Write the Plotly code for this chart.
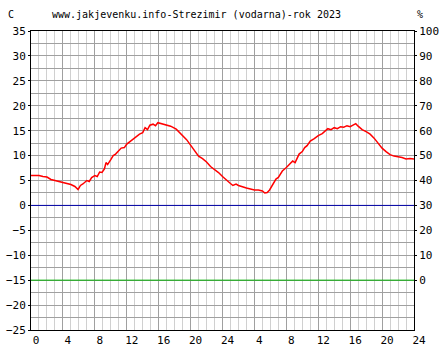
import plotly.graph_objects as go

# hours since start of the 2-day window and temperature in C
hours = [0, 1.0, 1.5, 2.0, 2.5, 3.0, 3.5, 4.0, 4.5, 5.0, 5.5, 5.9, 6.2, 6.5, 7.0, 7.3, 7.6, 8.0,
         8.3, 8.6, 8.9, 9.2, 9.4, 9.6, 10.0, 10.3, 10.6, 11.0, 11.3, 11.7, 12.0, 12.4, 12.8,
         13.2, 13.6, 14.0, 14.3, 14.6, 14.9, 15.3, 15.6, 15.9, 16.3, 16.7, 17.0, 17.5, 18.2,
         18.6, 19.0, 19.5, 20.0, 20.5, 21.0, 21.5, 22.0, 22.5, 23.0, 23.5, 24.0, 24.5, 25.0,
         25.3, 25.7, 26.0, 26.5, 27.0, 27.5, 28.0, 28.5, 29.0, 29.3, 29.6, 29.9, 30.3, 30.7,
         31.0, 31.5, 32.0, 32.4, 32.8, 33.1, 33.3, 33.6, 34.0, 34.3, 34.6, 35.0, 35.5, 36.0,
         36.5, 37.0, 37.2, 37.6, 38.0, 38.4, 38.8, 39.2, 39.6, 40.0, 40.4, 40.7, 41.0, 41.5,
         42.0, 42.5, 43.0, 43.6, 44.0, 44.5, 45.0, 45.5, 46.0, 46.5, 47.0, 47.5, 48.0]
temps = [6.0, 6.0, 5.8, 5.7, 5.2, 5.0, 4.9, 4.6, 4.4, 4.2, 3.8, 3.2, 4.0, 4.3, 5.0, 4.8, 5.6, 6.0,
         5.8, 6.7, 6.6, 7.3, 8.6, 8.2, 9.2, 10.0, 10.3, 11.0, 11.5, 11.6, 12.3, 12.8, 13.3,
         13.8, 14.3, 14.6, 15.6, 15.2, 16.1, 16.3, 16.0, 16.6, 16.4, 16.3, 16.2, 15.9, 15.3,
         14.7, 14.0, 13.2, 12.1, 11.0, 9.9, 9.4, 8.7, 7.8, 7.2, 6.6, 5.8, 5.0, 4.4,
         4.0, 4.3, 4.0, 3.7, 3.5, 3.3, 3.1, 3.1, 2.9, 2.5, 2.6, 3.1, 4.2, 5.3,
         5.6, 6.9, 7.6, 8.2, 8.9, 8.6, 9.3, 10.3, 10.8, 11.6, 12.0, 12.9, 13.4, 14.0,
         14.4, 15.0, 15.4, 15.2, 15.6, 15.4, 15.8, 15.7, 16.0, 15.8, 16.1, 16.4, 15.9, 15.2,
         14.8, 14.3, 13.5, 12.3, 11.5, 10.8, 10.2, 9.9, 9.8, 9.6, 9.3, 9.4, 9.3]

x_tick_vals = [0, 4, 8, 12, 16, 20, 24, 28, 32, 36, 40, 44, 48]
x_tick_text = ["0", "4", "8", "12", "16", "20", "24", "4", "8", "12", "16", "20", "24"]
y_tick_vals = [-25, -20, -15, -10, -5, 0, 5, 10, 15, 20, 25, 30, 35]
y2_tick_vals = [0, 10, 20, 30, 40, 50, 60, 70, 80, 90, 100]
ref_zero = 0
ref_low = -15

title_text = "www.jakjevenku.info-Strezimir (vodarna)-rok 2023"
FONT = "DejaVu Sans Mono"

fig = go.Figure()
fig.add_trace(go.Scatter(x=[0, 48], y=[ref_low, ref_low], mode="lines",
                         line=dict(color="#00b000", width=1), hoverinfo="skip", showlegend=False))
fig.add_trace(go.Scatter(x=[0, 48], y=[ref_zero, ref_zero], mode="lines",
                         line=dict(color="#0000a8", width=1), hoverinfo="skip", showlegend=False))
fig.add_trace(go.Scatter(x=hours, y=temps, mode="lines",
                         line=dict(color="#ff0000", width=1.5), showlegend=False))
# invisible trace for right axis
fig.add_trace(go.Scatter(x=[0], y=[50], yaxis="y2", mode="markers",
                         marker=dict(opacity=0), hoverinfo="skip", showlegend=False))

fig.update_layout(
    width=444, height=360,
    margin=dict(l=31, r=30, t=31, b=30),
    paper_bgcolor="white", plot_bgcolor="white",
    font=dict(family=FONT, size=10, color="black"),
    xaxis=dict(range=[0, 48], tickvals=x_tick_vals, ticktext=x_tick_text,
               showgrid=True, gridcolor="#a0a0a0", gridwidth=1,
               minor=dict(dtick=1, showgrid=True, gridcolor="#d0d0d0", gridwidth=1),
               showline=True, linecolor="black", linewidth=1, mirror=True,
               ticks="", ticklabelshift=5, tickfont=dict(family=FONT, size=11),
               zeroline=False, fixedrange=True, automargin=False),
    yaxis=dict(range=[-25, 35], tickvals=y_tick_vals,
               showgrid=True, gridcolor="#a0a0a0", gridwidth=1,
               minor=dict(dtick=2.5, tick0=0, showgrid=True, gridcolor="#a0a0a0", gridwidth=1),
               showline=True, linecolor="black", linewidth=1, mirror=True,
               ticks="outside", ticklen=2, tickcolor="black",
               tickfont=dict(family=FONT, size=11), zeroline=False, fixedrange=True,
               automargin=False),
    yaxis2=dict(range=[-20, 100], tickvals=y2_tick_vals, overlaying="y", side="right",
                showgrid=False, zeroline=False, showline=False,
                ticks="outside", ticklen=2, tickcolor="black",
                tickfont=dict(family=FONT, size=11), fixedrange=True, automargin=False),
    annotations=[
        dict(text=title_text, xref="paper", yref="paper", x=(50 - 31) / 383, y=1,
             xanchor="left", yanchor="bottom", yshift=9, showarrow=False,
             font=dict(family=FONT, size=10)),
        dict(text="C", xref="paper", yref="paper", x=(6 - 31) / 383, y=1,
             xanchor="left", yanchor="bottom", yshift=9, showarrow=False,
             font=dict(family=FONT, size=10)),
        dict(text="%", xref="paper", yref="paper", x=(415 - 31) / 383, y=1,
             xanchor="left", yanchor="bottom", yshift=9, showarrow=False,
             font=dict(family=FONT, size=10)),
    ],
)

fig.write_html("out.html", config={"displayModeBar": False},
               post_script="document.body.style.margin='0';")
